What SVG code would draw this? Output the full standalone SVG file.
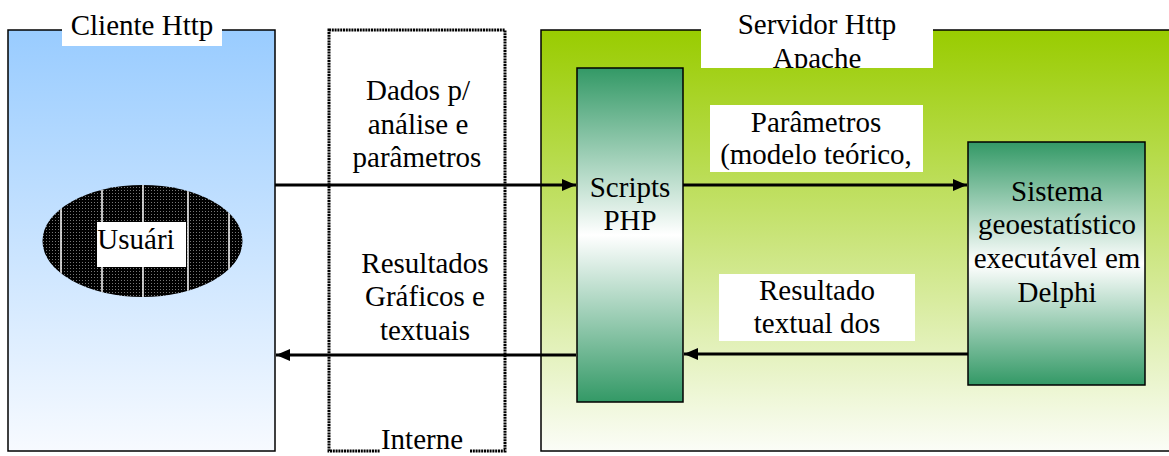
<svg xmlns="http://www.w3.org/2000/svg" width="1169" height="456" viewBox="0 0 1169 456">
<style>
  .t { font-size: 29px; fill: #000; text-anchor: middle; }
  .box { stroke: #000; stroke-width: 1.5; }
  .lbl { fill: #fff; stroke: none; }
  .conn { stroke: #000; stroke-width: 3; fill: none; }
</style>
<defs>
  <linearGradient id="gClient" x1="0" y1="0" x2="0" y2="1">
    <stop offset="0" stop-color="#99ccff"/>
    <stop offset="1" stop-color="#f7faff"/>
  </linearGradient>
  <linearGradient id="gServer" x1="0" y1="0" x2="0" y2="1">
    <stop offset="0" stop-color="#99cc00"/>
    <stop offset="1" stop-color="#fbfdf7"/>
  </linearGradient>
  <linearGradient id="gGreen" x1="0" y1="0" x2="0" y2="1">
    <stop offset="0" stop-color="#339966"/>
    <stop offset="0.5" stop-color="#ffffff"/>
    <stop offset="1" stop-color="#339966"/>
  </linearGradient>
  <pattern id="pDots" width="3" height="3" patternUnits="userSpaceOnUse">
    <rect width="3" height="3" fill="#000"/>
    <rect x="1" y="1" width="1" height="1" fill="#777"/>
  </pattern>
  <clipPath id="cEll"><ellipse cx="142.5" cy="241" rx="100" ry="56"/></clipPath>
  <clipPath id="cSrvLbl"><rect x="701" y="0" width="232" height="68"/></clipPath>
  <clipPath id="cParLbl"><rect x="710" y="105" width="213" height="67"/></clipPath>
  <marker id="arr" markerWidth="14" markerHeight="12" refX="14" refY="6" orient="auto" markerUnits="userSpaceOnUse">
    <path d="M0,0 L14,6 L0,12 z" fill="#000"/>
  </marker>
</defs>
<g font-family="Liberation Serif, Times New Roman, Tinos, DejaVu Serif, serif">

<g id="cliente">
  <rect class="box" x="8" y="30" width="267" height="421" fill="url(#gClient)"/>
  <rect class="lbl" x="62" y="10" width="160" height="36"/>
  <text class="t" x="142" y="35">Cliente Http</text>
</g>

<g id="usuario">
  <ellipse cx="142.5" cy="241" rx="100" ry="56" fill="url(#pDots)"/>
  <g clip-path="url(#cEll)" stroke="#fff" stroke-width="1.5">
    <line x1="61" y1="180" x2="61" y2="300"/>
    <line x1="102" y1="180" x2="102" y2="300"/>
    <line x1="143" y1="180" x2="143" y2="300"/>
    <line x1="188" y1="180" x2="188" y2="300"/>
    <line x1="229" y1="180" x2="229" y2="300"/>
  </g>
  <rect class="lbl" x="97" y="222" width="89" height="45"/>
  <text class="t" x="136" y="249">Usuári</text>
</g>

<g id="internet">
  <rect x="329" y="30" width="176" height="421" fill="#fff" stroke="#000" stroke-width="3" stroke-dasharray="2 0.8"/>
  <rect class="lbl" x="380" y="436" width="90" height="20"/>
  <text class="t" x="422" y="449">Interne</text>
  <text class="t" x="418" y="100">Dados p/</text>
  <text class="t" x="418" y="134">análise e</text>
  <text class="t" x="417" y="167">parâmetros</text>
  <text class="t" x="425" y="273">Resultados</text>
  <text class="t" x="425" y="306">Gráficos e</text>
  <text class="t" x="425" y="340">textuais</text>
</g>

<g id="servidor">
  <rect class="box" x="541" y="30" width="640" height="421" fill="url(#gServer)"/>
  <rect class="lbl" x="701" y="0" width="232" height="68"/>
  <g clip-path="url(#cSrvLbl)">
    <text class="t" x="817" y="34">Servidor Http</text>
    <text class="t" x="817" y="68">Apache</text>
  </g>
</g>

<g id="scripts">
  <rect class="box" x="577" y="68" width="106" height="334" fill="url(#gGreen)"/>
  <text class="t" x="630" y="197">Scripts</text>
  <text class="t" x="630" y="230">PHP</text>
</g>

<g id="sistema">
  <rect class="box" x="968" y="142" width="177" height="243" fill="url(#gGreen)"/>
  <text class="t" x="1057" y="201">Sistema</text>
  <text class="t" x="1057" y="234">geoestatístico</text>
  <text class="t" x="1057" y="268">executável em</text>
  <text class="t" x="1057" y="302">Delphi</text>
</g>

<g id="connectors">
  <line class="conn" x1="275" y1="185" x2="576" y2="185" marker-end="url(#arr)"/>
  <line class="conn" x1="576" y1="355" x2="276" y2="355" marker-end="url(#arr)"/>
  <line class="conn" x1="683" y1="185" x2="967" y2="185" marker-end="url(#arr)"/>
  <line class="conn" x1="968" y1="354" x2="684" y2="354" marker-end="url(#arr)"/>
</g>

<g id="label-parametros">
  <rect class="lbl" x="710" y="105" width="213" height="67"/>
  <g clip-path="url(#cParLbl)">
    <text class="t" x="816" y="132">Parâmetros</text>
    <text class="t" x="816" y="164">(modelo teórico,</text>
  </g>
</g>

<g id="label-resultado">
  <rect class="lbl" x="719" y="274" width="196" height="67"/>
  <text class="t" x="817" y="300">Resultado</text>
  <text class="t" x="817" y="333">textual dos</text>
</g>
</g>
</svg>
